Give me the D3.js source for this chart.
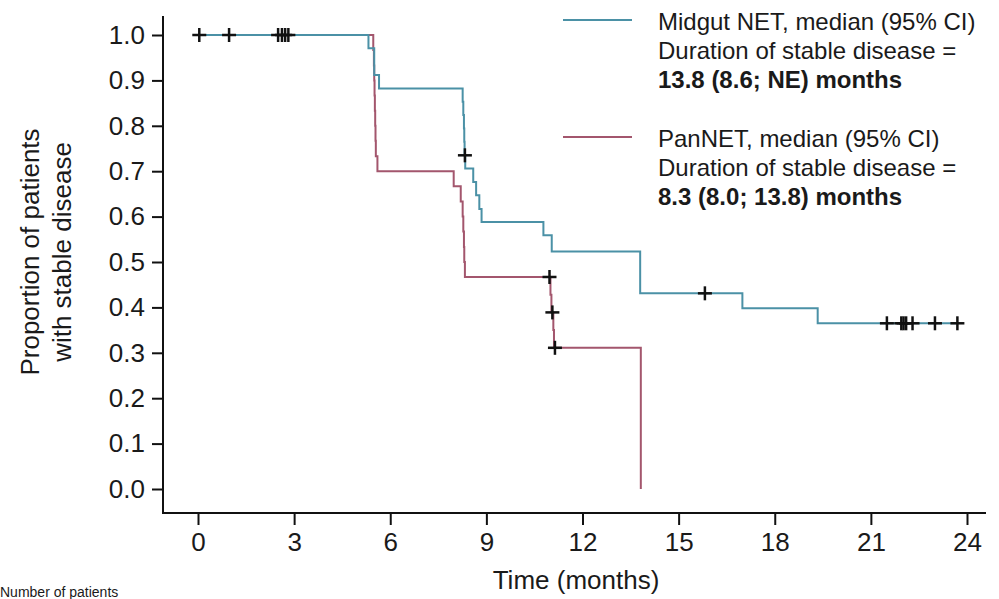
<!DOCTYPE html>
<html>
<head>
<meta charset="utf-8">
<script src="https://cdn.jsdelivr.net/npm/d3@7"></script>
<style>
  html, body { margin: 0; padding: 0; background: #fff; }
  svg { display: block; }
  text { font-family: "Liberation Sans", Arial, sans-serif; fill: #1a1a1a; }
</style>
</head>
<body>
<svg id="chart" width="999" height="599"></svg>
<script>
// ---- Data ----
const xTickValues = [0, 3, 6, 9, 12, 15, 18, 21, 24];
const yTickValues = [0.0, 0.1, 0.2, 0.3, 0.4, 0.5, 0.6, 0.7, 0.8, 0.9, 1.0];

// Midgut NET: event times (months) and survival after each event
const midgutTimes = [0, 5.32, 5.5, 5.65, 8.26, 8.28, 8.30, 8.31, 8.32, 8.34, 8.59, 8.68, 8.78, 8.85, 10.78, 11.04, 13.8, 16.99, 19.34];
const midgutSurv  = [1.0, 0.971, 0.912, 0.882, 0.853, 0.824, 0.794, 0.765, 0.735, 0.706, 0.676, 0.647, 0.617, 0.588, 0.559, 0.523, 0.431, 0.398, 0.365];
const midgutEnd = 23.7;
const midgutCensor = [0.04, 0.97, 2.5, 2.62, 2.72, 2.82, 8.33, 15.82, 21.5, 21.95, 22.02, 22.1, 22.3, 23.0, 23.7];

// PanNET
const panTimes = [0, 5.47, 5.49, 5.5, 5.51, 5.52, 5.53, 5.54, 5.55, 5.6, 7.98, 8.2, 8.26, 8.28, 8.3, 8.31, 8.33, 11.0, 11.03, 11.09, 11.11, 13.82];
const panSurv  = [1.0, 0.967, 0.933, 0.9, 0.867, 0.833, 0.8, 0.767, 0.733, 0.70, 0.667, 0.633, 0.6, 0.567, 0.533, 0.5, 0.467, 0.428, 0.389, 0.35, 0.311, 0.0];
const panEnd = 13.82;
const panCensor = [10.97, 11.06, 11.14];

const legendMidgut = ["Midgut NET, median (95% CI)", "Duration of stable disease =", "13.8 (8.6; NE) months"];
const legendPan = ["PanNET, median (95% CI)", "Duration of stable disease =", "8.3 (8.0; 13.8) months"];

const colMidgut = "#4b91a6";
const colPan = "#a3566d";
const FS = "26px";
const FS_LEG = "24px";

// ---- Drawing ----
const svg = d3.select("#chart");
const x = d3.scaleLinear().domain([0, 24]).range([198, 967]);
const y = d3.scaleLinear().domain([0, 1]).range([489, 35]);

const axisX = 163, axisY = 513;

// Y axis
const gy = svg.append("g").attr("transform", `translate(${axisX},0)`)
  .call(d3.axisLeft(y).tickValues(yTickValues).tickFormat(d3.format(".1f")).tickSize(11).tickPadding(7));
gy.select(".domain").remove();
gy.selectAll(".tick line").attr("stroke", "#111").attr("stroke-width", 2);
gy.selectAll(".tick text").style("font-size", FS).style("font-family", "Liberation Sans, Arial, sans-serif").attr("fill", "#1a1a1a");
svg.append("line").attr("x1", axisX).attr("x2", axisX).attr("y1", 16).attr("y2", axisY + 1)
  .attr("stroke", "#111").attr("stroke-width", 2);

// X axis
const gx = svg.append("g").attr("transform", `translate(0,${axisY})`)
  .call(d3.axisBottom(x).tickValues(xTickValues).tickFormat(d3.format("d")).tickSize(12).tickPadding(8));
gx.select(".domain").remove();
gx.selectAll(".tick line").attr("stroke", "#111").attr("stroke-width", 2);
gx.selectAll(".tick text").style("font-size", FS).style("font-family", "Liberation Sans, Arial, sans-serif").attr("fill", "#1a1a1a");
svg.append("line").attr("x1", axisX - 1).attr("x2", 986).attr("y1", axisY).attr("y2", axisY)
  .attr("stroke", "#111").attr("stroke-width", 2);

// Axis titles
svg.append("text").attr("x", 576).attr("y", 589).attr("text-anchor", "middle")
  .style("font-size", FS).text("Time (months)");
const yt = svg.append("text").attr("transform", "translate(0,252) rotate(-90)").attr("text-anchor", "middle")
  .style("font-size", FS);
yt.append("tspan").attr("x", 0).attr("y", 39).text("Proportion of patients");
yt.append("tspan").attr("x", 0).attr("y", 71).text("with stable disease");

// Step curves
function stepPoints(times, surv, end) {
  const pts = times.map((t, i) => [t, surv[i]]);
  pts.push([end, surv[surv.length - 1]]);
  return pts;
}
function survAt(times, surv, t) {
  let v = surv[0];
  for (let i = 0; i < times.length; i++) if (times[i] <= t) v = surv[i];
  return v;
}
const line = d3.line().x(d => x(d[0])).y(d => y(d[1])).curve(d3.curveStepAfter);

svg.append("path").datum(stepPoints(panTimes, panSurv, panEnd))
  .attr("d", line).attr("fill", "none").attr("stroke", colPan).attr("stroke-width", 2);
svg.append("path").datum(stepPoints(midgutTimes, midgutSurv, midgutEnd))
  .attr("d", line).attr("fill", "none").attr("stroke", colMidgut).attr("stroke-width", 2);

// Censor marks
function drawCensor(times, surv, cens) {
  const g = svg.append("g").attr("stroke", "#111").attr("stroke-width", 2.5);
  cens.forEach(t => {
    const cx = x(t), cy = y(survAt(times, surv, t));
    g.append("line").attr("x1", cx - 7).attr("x2", cx + 7).attr("y1", cy).attr("y2", cy);
    g.append("line").attr("x1", cx).attr("x2", cx).attr("y1", cy - 7).attr("y2", cy + 7);
  });
}
drawCensor(midgutTimes, midgutSurv, midgutCensor);
drawCensor(panTimes, panSurv, panCensor);

// Legend
function legend(yLine, color, lines) {
  svg.append("line").attr("x1", 563).attr("x2", 632).attr("y1", yLine).attr("y2", yLine)
    .attr("stroke", color).attr("stroke-width", 2);
  lines.forEach((s, i) => {
    svg.append("text").attr("x", 658).attr("y", yLine + 10 + i * 29)
      .style("font-size", FS_LEG).style("font-weight", i === 2 ? "bold" : "normal").text(s);
  });
}
legend(20, colMidgut, legendMidgut);
legend(137, colPan, legendPan);

// Text at the bottom edge (partly cut in the reference; kept visible here)
svg.append("text").attr("x", 0).attr("y", 597).style("font-size", "14px").text("Number of patients");
</script>
</body>
</html>
